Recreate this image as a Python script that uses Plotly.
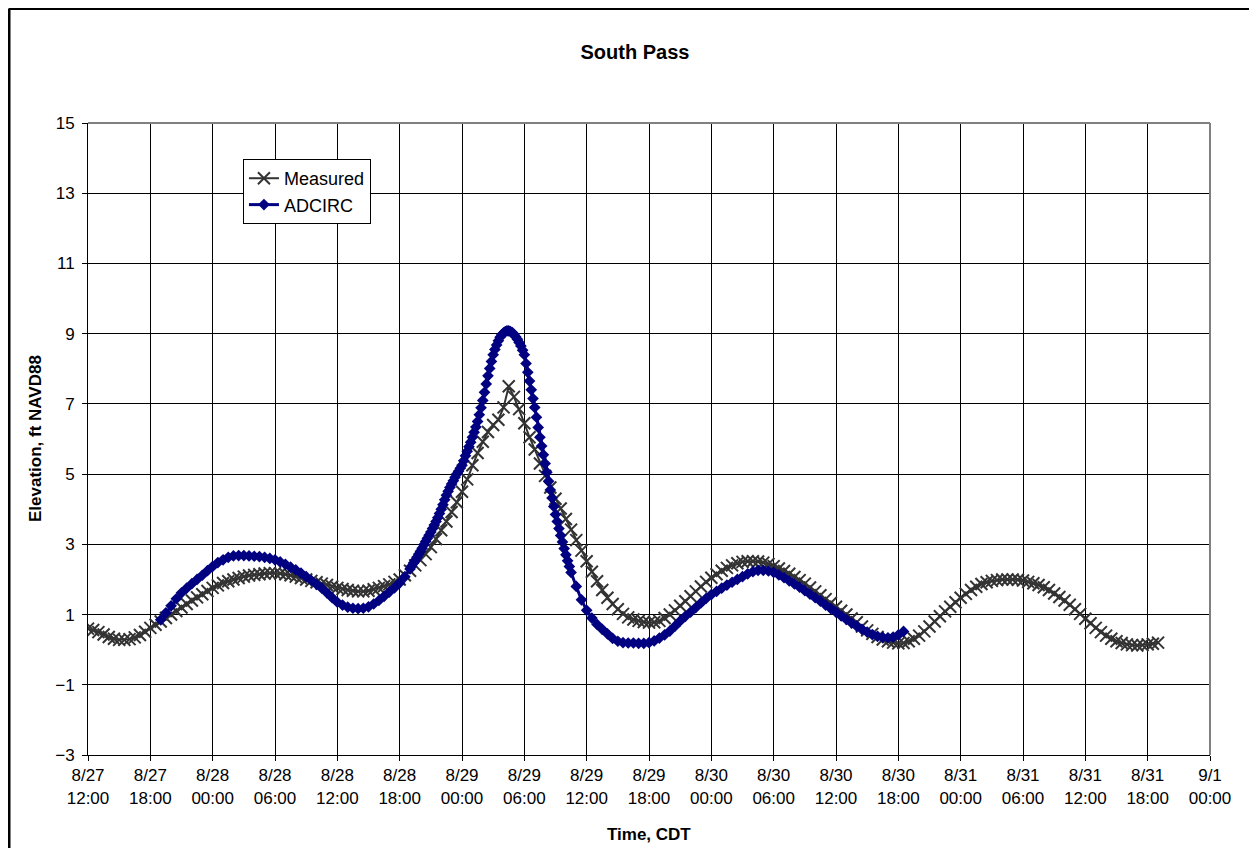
import numpy as np
import pandas as pd
import plotly.graph_objects as go

# hours after 8/27 12:00 CDT
start = pd.Timestamp("2005-08-27 12:00")

# measured gauge, every 30 min from 8/27 12:00 to 8/31 19:00
measured_hours = np.arange(0, 103.01, 0.5)
measured_ft = [
    # 0.0 - 30.0
    0.60, 0.56, 0.50, 0.43, 0.36, 0.31, 0.28, 0.28, 0.30, 0.35, 0.42, 0.51, 0.62, 0.71, 0.80, 0.90,
    1.00, 1.10, 1.20, 1.30, 1.40, 1.49, 1.58, 1.67, 1.76, 1.83, 1.90, 1.95, 2.00, 2.04, 2.08, 2.11,
    2.13, 2.15, 2.17, 2.18, 2.18, 2.17, 2.15, 2.12, 2.08, 2.04, 2.00, 1.96, 1.92, 1.88, 1.84, 1.80,
    1.76, 1.73, 1.70, 1.68, 1.66, 1.66, 1.68, 1.72, 1.76, 1.81, 1.86, 1.93, 2.00,
    # 30.5 - 50.0
    2.12, 2.25, 2.40, 2.55, 2.72, 2.92, 3.15, 3.40, 3.65, 3.92, 4.20, 4.50, 4.85, 5.25, 5.60, 5.92,
    6.20, 6.40, 6.55, 6.90, 7.50, 7.20, 6.85, 6.45, 6.05, 5.70, 5.30, 4.95, 4.62, 4.30, 4.02, 3.72,
    3.42, 3.12, 2.82, 2.52, 2.22, 1.95, 1.70, 1.48,
    # 50.5 - 103.0
    1.30, 1.15, 1.02, 0.92, 0.86, 0.82, 0.79, 0.77, 0.78, 0.82, 0.90, 1.00, 1.12, 1.25, 1.38, 1.52,
    1.66, 1.80, 1.93, 2.05, 2.15, 2.25, 2.33, 2.40, 2.46, 2.50, 2.52, 2.52, 2.51, 2.48, 2.44, 2.38,
    2.31, 2.24, 2.16, 2.07, 1.98, 1.88, 1.77, 1.66, 1.55, 1.44, 1.33, 1.22, 1.11, 1.00, 0.89, 0.78,
    0.66, 0.55, 0.45, 0.36, 0.29, 0.24, 0.20, 0.18, 0.19, 0.24, 0.31, 0.40, 0.52, 0.66, 0.80, 0.95,
    1.09, 1.22, 1.35, 1.48, 1.59, 1.70, 1.79, 1.87, 1.92, 1.96, 1.98, 2.00, 2.00, 2.00, 1.99, 1.97,
    1.93, 1.89, 1.84, 1.78, 1.70, 1.60, 1.50, 1.40, 1.28, 1.15, 1.02, 0.88, 0.75, 0.62, 0.50, 0.40,
    0.31, 0.24, 0.19, 0.15, 0.13, 0.12, 0.13, 0.15, 0.17, 0.20,
]

# ADCIRC: 30 min steps, 10 min steps through the surge peak
adcirc_hours = np.concatenate([np.arange(7.0, 31.01, 0.5), 31 + np.arange(1, 94) / 6,
                               np.arange(47.0, 78.51, 0.5)])
adcirc_ft = [
    # 7.0 - 31.0
    0.85, 1.05, 1.25, 1.45, 1.62, 1.75, 1.88, 2.00, 2.12, 2.25, 2.37, 2.48, 2.56, 2.63, 2.67, 2.68,
    2.68, 2.67, 2.66, 2.65, 2.63, 2.60, 2.56, 2.50, 2.43, 2.35, 2.27, 2.18, 2.08, 1.97, 1.86, 1.75,
    1.62, 1.48, 1.35, 1.27, 1.21, 1.18, 1.17, 1.18, 1.22, 1.30, 1.40, 1.52, 1.64, 1.76, 1.90, 2.08,
    2.30,
    # 31.17 - 46.5, every 10 min
    2.38, 2.47, 2.55, 2.63, 2.72, 2.80, 2.89, 2.99, 3.08, 3.17, 3.26, 3.35, 3.45, 3.55, 3.65, 3.76,
    3.88, 4.00, 4.13, 4.27, 4.40, 4.51, 4.62, 4.72, 4.81, 4.91, 5.00, 5.08, 5.17, 5.25, 5.38, 5.52,
    5.65, 5.78, 5.91, 6.05, 6.19, 6.34, 6.50, 6.69, 6.89, 7.10, 7.33, 7.57, 7.80, 8.01, 8.21, 8.40,
    8.55, 8.68, 8.80, 8.90, 8.97, 9.02, 9.06, 9.08, 9.08, 9.06, 9.03, 8.98, 8.91, 8.84, 8.75, 8.65,
    8.53, 8.40, 8.15, 7.90, 7.65, 7.40, 7.15, 6.90, 6.62, 6.33, 6.05, 5.80, 5.55, 5.30, 5.05, 4.80,
    4.55, 4.32, 4.08, 3.85, 3.65, 3.45, 3.25, 3.07, 2.88, 2.70, 2.53, 2.37, 2.20,
    # 47.0 - 78.5
    1.80, 1.42, 1.12, 0.90, 0.72, 0.58, 0.45, 0.32, 0.24, 0.20, 0.19, 0.19, 0.18, 0.18, 0.20, 0.25,
    0.33, 0.42, 0.53, 0.67, 0.82, 0.95, 1.07, 1.20, 1.33, 1.46, 1.57, 1.66, 1.75, 1.84, 1.92, 2.00,
    2.08, 2.16, 2.22, 2.26, 2.26, 2.24, 2.20, 2.13, 2.05, 1.96, 1.87, 1.78, 1.68, 1.58, 1.48, 1.38,
    1.27, 1.17, 1.07, 0.96, 0.86, 0.76, 0.67, 0.58, 0.50, 0.43, 0.38, 0.35, 0.34, 0.36, 0.42, 0.52,
]

t_meas = start + pd.to_timedelta(measured_hours, unit="h")
t_adc = start + pd.to_timedelta(adcirc_hours, unit="h")

FONT = "Liberation Sans, Arial, sans-serif"

fig = go.Figure()
fig.add_trace(go.Scatter(
    x=t_meas, y=measured_ft, name="Measured", mode="lines+markers",
    line=dict(color="#333333", width=2),
    marker=dict(symbol="x-thin", size=12, line=dict(color="#333333", width=2)),
))
fig.add_trace(go.Scatter(
    x=t_adc, y=adcirc_ft, name="ADCIRC", mode="lines+markers",
    line=dict(color="#000080", width=3),
    marker=dict(symbol="diamond", size=9, color="#000080"),
))

W, H = 1241, 840
L, R, T, B = 80, 39, 115, 93
pw, ph = W - L - R, H - T - B

fig.update_layout(
    width=W, height=H,
    margin=dict(l=L, r=R, t=T, b=B),
    paper_bgcolor="white", plot_bgcolor="white",
    font=dict(family=FONT, size=17, color="black"),
    title=dict(text="<b>South Pass</b>", font=dict(size=20), x=0.4875, xref="paper",
               y=1 - 44 / H, yref="container", xanchor="center", yanchor="middle"),
    legend=dict(x=0.1381, y=0.943, xanchor="left", yanchor="top", bgcolor="white",
                bordercolor="black", borderwidth=1, font=dict(size=18), tracegroupgap=0),
    showlegend=True,
)
fig.update_xaxes(
    type="date", range=[start, pd.Timestamp("2005-09-01 00:00")],
    tick0=start, dtick=6 * 3600 * 1000, tickformat="%-m/%-d<br>%H:%M",
    ticks="outside", ticklen=5, tickcolor="black",
    showgrid=True, gridcolor="black", gridwidth=1,
    showline=True, linecolor="black", linewidth=1, zeroline=False,
)
fig.update_yaxes(
    range=[-3, 15], tick0=-3, dtick=2,
    ticks="outside", ticklen=5, tickcolor="black", ticklabelstandoff=4,
    showgrid=True, gridcolor="black", gridwidth=1,
    showline=True, linecolor="black", linewidth=1, zeroline=False,
)

# plot area border (top and right in gray)
fig.add_shape(type="line", xref="paper", yref="paper", x0=0, x1=1, y0=1, y1=1,
              line=dict(color="#808080", width=2))
fig.add_shape(type="line", xref="paper", yref="paper", x0=1, x1=1, y0=0, y1=1,
              line=dict(color="#808080", width=2))
# chart frame: only top and left edges fall inside the picture
fx, fy = (1 - L) / pw, 1 + (T - 0.5) / ph
fig.add_shape(type="line", xref="paper", yref="paper", x0=fx, x1=(W - L) / pw, y0=fy, y1=fy,
              line=dict(color="black", width=3))
fig.add_shape(type="line", xref="paper", yref="paper", x0=fx, x1=fx, y0=fy, y1=-B / ph,
              line=dict(color="black", width=3))

fig.add_annotation(text="<b>Elevation, ft NAVD88</b>", xref="paper", yref="paper",
                   x=(27 - L) / pw, y=0.5, textangle=-90, showarrow=False,
                   font=dict(size=17), xanchor="center", yanchor="middle")
fig.add_annotation(text="<b>Time, CDT</b>", xref="paper", yref="paper",
                   x=0.5, y=-(826 - (H - B)) / ph, showarrow=False,
                   font=dict(size=17), xanchor="center", yanchor="middle")

fig.write_html("out.html")
